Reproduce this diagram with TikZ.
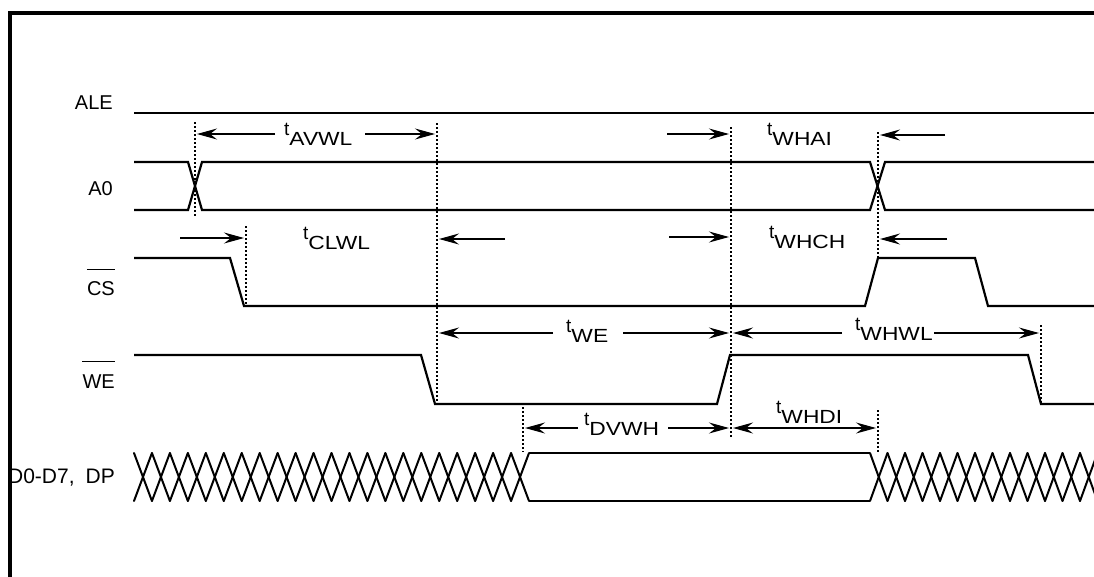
\documentclass[tikz,border=0pt]{standalone}
\usepackage{fontspec}
\setmainfont{Liberation Sans}
\newfontfamily\widefont[FakeStretch=1.2]{Liberation Sans}
\usetikzlibrary{arrows.meta}
\newcommand\tsub[1]{\raisebox{10pt}{\fontsize{19}{19}\selectfont t}{\widefont\fontsize{19}{19}\selectfont #1}}
\begin{document}
\begin{tikzpicture}[x=1pt,y=-1pt,
  sig/.style={line width=2.2pt, line join=miter},
  hatch/.style={line width=2pt, line cap=round},
  dimarrow/.style={line width=1.1pt,-{Stealth[length=20pt,width=11pt,inset=7pt]}},
  dimboth/.style={line width=1.1pt,{Stealth[length=20pt,width=11pt,inset=7pt]}-{Stealth[length=20pt,width=11pt,inset=7pt]}},
  guide/.style={line width=1.1pt, dash pattern=on 1.5pt off 2.5pt},
  siglabel/.style={anchor=base east, inner sep=0pt, font=\fontsize{20}{20}\selectfont},
  tlabel/.style={anchor=base west, inner sep=0pt}]
\useasboundingbox (0,0) rectangle (1094,576);
\begin{scope}
\clip (0,0) rectangle (1094,576);

% signal labels
\node[siglabel] (ale) at (113,109) {ALE};
\node[siglabel] (a0) at (113,195) {A0};
\node[siglabel] (cs) at (115,295) {CS};
\node[siglabel] (we) at (115,388) {WE};
\node[siglabel, font=\fontsize{21}{21}\selectfont] (data) at (115,483) {D0-D7,\hspace{11pt}DP};
\draw[line width=1pt] ([yshift=11pt]cs.north west) -- ([yshift=11pt]cs.north east);
\draw[line width=1pt] ([yshift=13pt]we.north west) -- ([yshift=13pt]we.north east);

% frame
\draw[line width=4pt] (10,590) -- (10,13) -- (1110,13);

% ALE
\draw[sig] (134,113) -- (1100,113);
% A0
\draw[sig] (134,162) -- (188,162) -- (202,210) -- (870,210) -- (885,162) -- (1100,162);
\draw[sig] (134,210) -- (188,210) -- (202,162) -- (870,162) -- (885,210) -- (1100,210);
% CS
\draw[sig] (134,258) -- (230,258) -- (244,306) -- (865,306) -- (878,258) -- (975,258) -- (988,306) -- (1100,306);
% WE
\draw[sig] (134,355) -- (421,355) -- (435,404) -- (717,404) -- (730,355) -- (1028,355) -- (1041,404) -- (1100,404);
% Data bus
\foreach \k in {0,...,21}{
  \draw[hatch] ({134+\k*17.955},453) -- ({134+(\k+1)*17.955},501);
  \draw[hatch] ({134+\k*17.955},501) -- ({134+(\k+1)*17.955},453);
}
\draw[sig] (529,453) -- (870,453);
\draw[sig] (529,501) -- (870,501);
\foreach \k in {0,...,13}{
  \draw[hatch] ({870+\k*17.5},453) -- ({870+(\k+1)*17.5},501);
  \draw[hatch] ({870+\k*17.5},501) -- ({870+(\k+1)*17.5},453);
}

% guide lines
\coordinate (g1t) at (195,122);  \coordinate (g1b) at (195,218);
\coordinate (g2t) at (246,226);  \coordinate (g2b) at (246,306);
\coordinate (g3t) at (437,123);  \coordinate (g3b) at (437,404);
\coordinate (g4t) at (731,127);  \coordinate (g4b) at (731,438);
\coordinate (g5t) at (878,132);  \coordinate (g5b) at (878,258);
\coordinate (g6t) at (878,410);  \coordinate (g6b) at (878,453);
\coordinate (g7t) at (523,407);  \coordinate (g7b) at (523,452);
\coordinate (g8t) at (1041,325); \coordinate (g8b) at (1041,403);
\foreach \g in {g1,g2,g3,g4,g5,g6,g7,g8}{\draw[guide] (\g t) -- (\g b);}

% timing labels
\node[tlabel] (tavwl) at (284,145) {\tsub{AVWL}};
\node[tlabel] (twhai) at (767,145) {\tsub{WHAI}};
\node[tlabel] (tclwl) at (303,249) {\tsub{CLWL}};
\node[tlabel] (twhch) at (769,248) {\tsub{WHCH}};
\node[tlabel] (twe)   at (566,342) {\tsub{WE}};
\node[tlabel] (twhwl) at (855,340) {\tsub{WHWL}};
\node[tlabel] (tdvwh) at (584,435) {\tsub{DVWH}};
\node[tlabel] (twhdi) at (776,423) {\tsub{WHDI}};

% timing arrows
\draw[dimarrow] (275,134) -- (197,134);
\draw[dimarrow] (365,134) -- (435,134);
\draw[dimarrow] (667,134) -- (729,134);
\draw[dimarrow] (945,135) -- (880,135);
\draw[dimarrow] (180,238) -- (244,238);
\draw[dimarrow] (505,239) -- (439,239);
\draw[dimarrow] (669,237) -- (729,237);
\draw[dimarrow] (947,239) -- (880,239);
\draw[dimarrow] (553,333) -- (439,333);
\draw[dimarrow] (623,333) -- (729,333);
\draw[dimarrow] (842,333) -- (733,333);
\draw[dimarrow] (934,333) -- (1039,333);
\draw[dimarrow] (578,428) -- (525,428);
\draw[dimarrow] (668,428) -- (729,428);
\draw[dimboth] (733,428) -- (876,428);
\end{scope}
\end{tikzpicture}
\end{document}
